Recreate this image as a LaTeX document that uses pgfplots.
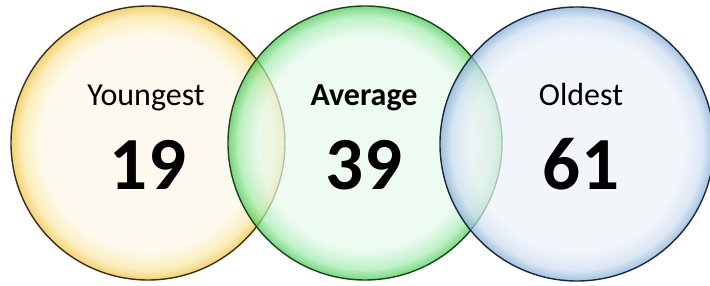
\documentclass[border=0pt]{standalone}
\usepackage{pgfplots}
\pgfplotsset{compat=1.18}
\usepackage{fontspec}
\setmainfont{Carlito}
\definecolor{yc}{RGB}{253,247,232}
\definecolor{ym}{RGB}{250,232,165}
\definecolor{ye}{RGB}{238,192,60}
\definecolor{gc}{RGB}{230,249,236}
\definecolor{gm}{RGB}{165,236,178}
\definecolor{ge}{RGB}{70,200,80}
\definecolor{bc}{RGB}{237,242,250}
\definecolor{bm}{RGB}{205,222,240}
\definecolor{be}{RGB}{130,170,212}
\definecolor{yo}{RGB}{60,45,20}
\definecolor{go}{RGB}{25,70,25}
\definecolor{bo}{RGB}{25,40,65}
\pgfdeclareradialshading{shY}{\pgfpoint{0bp}{0bp}}{color(0bp)=(yc); color(19.5bp)=(yc); color(23bp)=(ym); color(25bp)=(ye); color(50bp)=(ye)}
\pgfdeclareradialshading{shG}{\pgfpoint{0bp}{0bp}}{color(0bp)=(gc); color(19.5bp)=(gc); color(23bp)=(gm); color(25bp)=(ge); color(50bp)=(ge)}
\pgfdeclareradialshading{shB}{\pgfpoint{0bp}{0bp}}{color(0bp)=(bc); color(19.5bp)=(bc); color(23bp)=(bm); color(25bp)=(be); color(50bp)=(be)}
\begin{document}
\begin{tikzpicture}
\useasboundingbox (0,0) rectangle (710pt,286pt);
\clip (0,0) rectangle (710pt,286pt);
\begin{axis}[
  scale only axis, width=710pt, height=286pt,
  xmin=0, xmax=710, ymin=0, ymax=286,
  hide axis, clip=false,
  bubble/.style 2 args={mark=none, draw=none, only marks,
    nodes near coords={},
    every node near coord/.style={circle, minimum size=274pt, inner sep=0pt, anchor=center,
      draw=#2, draw opacity=1, line width=1.4pt, fill opacity=0.72, shading=#1}},
]
% circle centres (pixel coordinates, y measured from bottom)
\addplot[bubble={shY}{yo}] coordinates {(148,143)};
\addplot[bubble={shG}{go}] coordinates {(365,143)};
\addplot[bubble={shB}{bo}] coordinates {(577,142)};
% names
\addplot[mark=none, draw=none, only marks, point meta=explicit symbolic,
  nodes near coords, every node near coord/.style={anchor=base, font=\fontsize{32}{36}\selectfont, text=black}]
  coordinates {(146,180) [Youngest] (581,180) [Oldest]};
\addplot[mark=none, draw=none, only marks, point meta=explicit symbolic,
  nodes near coords, every node near coord/.style={anchor=base, font=\fontsize{32}{36}\selectfont\bfseries, text=black}]
  coordinates {(364,180) [Average]};
% values
\addplot[mark=none, draw=none, only marks, point meta=explicit symbolic,
  nodes near coords={\pgfplotspointmeta},
  every node near coord/.style={anchor=base, font=\fontsize{75}{80}\selectfont\bfseries, text=black}]
  table[meta=v] {
x y v
148 96 19
364 96 39
581 96 61
};
\end{axis}
\end{tikzpicture}
\end{document}
